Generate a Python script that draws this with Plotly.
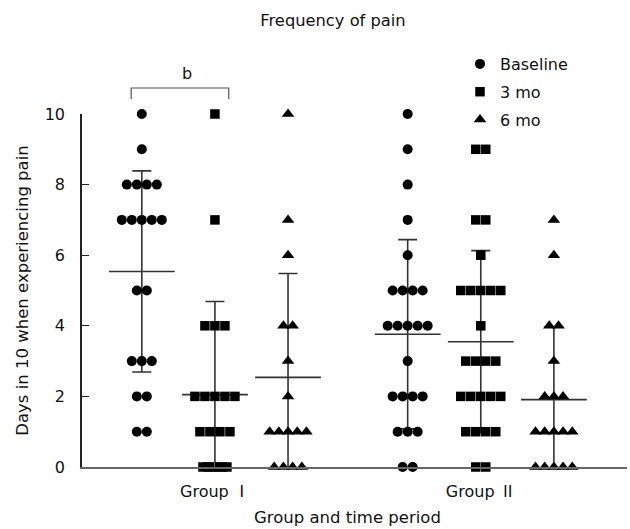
import plotly.graph_objects as go

# ---- data: days in 10 with pain, one value per patient ----
groups = ["Group <span style='font-family:Noto Sans CJK SC'>Ⅰ</span>",
          "Group <span style='font-family:Noto Sans CJK SC'>Ⅱ</span>"]
periods = ["Baseline", "3 mo", "6 mo"]

g1_baseline = [10, 9, 8, 8, 8, 8, 7, 7, 7, 7, 7, 5, 5, 3, 3, 3, 2, 2, 1, 1]
g1_3mo = [10, 7, 4, 4, 4, 2, 2, 2, 2, 2, 1, 1, 1, 1, 0, 0, 0, 0, 0, 0]
g1_6mo = [10, 7, 6, 4, 4, 3, 2, 1, 1, 1, 1, 1, 0, 0, 0, 0]

g2_baseline = [10, 9, 8, 7, 6, 5, 5, 5, 5, 4, 4, 4, 4, 4, 3, 2, 2, 2, 2, 1, 1, 1, 0, 0]
g2_3mo = [9, 9, 7, 7, 6, 5, 5, 5, 5, 5, 4, 3, 3, 3, 3, 2, 2, 2, 2, 2, 1, 1, 1, 1, 0, 0]
g2_6mo = [7, 6, 4, 4, 3, 2, 2, 2, 1, 1, 1, 1, 1, 0, 0, 0, 0, 0]

# mean and SD for each period
g1_mean = [5.54, 2.05, 2.54]
g1_sd = [2.85, 2.64, 2.94]
g2_mean = [3.76, 3.55, 1.91]
g2_sd = [2.68, 2.58, 2.06]

y_ticks = [0, 2, 4, 6, 8, 10]

# ---- layout constants ----
W, H = 630, 529
M_L, M_R, M_T, M_B = 82, 3, 114, 62
PLOT_H = H - M_T - M_B
PLOT_W = W - M_L - M_R
X_RANGE = [0.5, 2.55]
PX_PER_X = PLOT_W / (X_RANGE[1] - X_RANGE[0])
PERIOD_OFFSET = 0.275

FONT = "DejaVu Sans, Noto Sans CJK SC, sans-serif"
INK = "#111111"
BAR = "#333333"

symbols = ["circle", "square", "triangle-up"]
sizes = [10, 9.5, 11]
spacing_px = [10.0, 10.0, 9.2]


def swarm_x(center, values, step_px):
    """Spread equal values sideways around the column centre."""
    xs = []
    seen = {}
    counts = {}
    for v in values:
        counts[v] = counts.get(v, 0) + 1
    for v in values:
        n = counts[v]
        k = seen.get(v, 0)
        seen[v] = k + 1
        # crowded rows are packed tightly
        step = step_px if n <= 5 else 24.0 / (n - 1)
        xs.append(center + (k - (n - 1) / 2) * step / PX_PER_X)
    return xs


series = [
    (1, [g1_baseline, g1_3mo, g1_6mo], g1_mean, g1_sd),
    (2, [g2_baseline, g2_3mo, g2_6mo], g2_mean, g2_sd),
]

fig = go.Figure()

# mean line with SD whiskers
for gx, _, means, sds in series:
    cx = [gx + (i - 1) * PERIOD_OFFSET for i in range(3)]
    fig.add_trace(go.Scatter(
        x=cx, y=means, mode="markers", showlegend=False, hoverinfo="skip",
        marker=dict(symbol="line-ew", size=47, color=BAR,
                    line=dict(width=1.6, color=BAR)),
        error_y=dict(type="data", array=sds, symmetric=True, width=9.5,
                     thickness=1.6, color=BAR),
    ))

# individual patients
for gi, (gx, sets, _, _) in enumerate(series):
    for i, vals in enumerate(sets):
        cx = gx + (i - 1) * PERIOD_OFFSET
        fig.add_trace(go.Scatter(
            x=swarm_x(cx, vals, spacing_px[i]), y=vals, mode="markers",
            name=periods[i], legendgroup=periods[i], showlegend=(gi == 0),
            cliponaxis=False,
            marker=dict(symbol=symbols[i], size=sizes[i], color="black",
                        line=dict(width=0)),
        ))


def xp(x):
    return (x - X_RANGE[0]) / (X_RANGE[1] - X_RANGE[0])


def yp_px(py):
    """paper y for a pixel row measured from the top of the figure"""
    return 1 + (M_T - py) / PLOT_H


# significance bracket between baseline and 3 mo of group I
br_l = xp(1 - PERIOD_OFFSET - 0.04)
br_r = xp(1 + 0.052)
br_top = yp_px(88)
br_bot = yp_px(99)
fig.add_shape(type="path", xref="paper", yref="paper",
              path=f"M {br_l} {br_bot} L {br_l} {br_top} L {br_r} {br_top} L {br_r} {br_bot}",
              line=dict(color="#555555", width=1.2))
fig.add_annotation(x=(br_l + br_r) / 2, y=br_top, xref="paper", yref="paper",
                   text="b", showarrow=False, yanchor="bottom", yshift=3,
                   font=dict(family=FONT, size=16, color=INK))

# x-axis title
fig.add_annotation(x=(347 - M_L) / PLOT_W, y=yp_px(517), xref="paper", yref="paper",
                   text="Group and time period", showarrow=False,
                   xanchor="center", yanchor="middle",
                   font=dict(family=FONT, size=16.5, color=INK))

fig.update_layout(
    width=W, height=H,
    margin=dict(l=M_L, r=M_R, t=M_T, b=M_B),
    paper_bgcolor="white", plot_bgcolor="white",
    font=dict(family=FONT, size=16, color=INK),
    title=dict(text="Frequency of pain", x=333 / W, xref="container", xanchor="center",
               y=1 - 20 / H, yref="container", yanchor="middle",
               font=dict(family=FONT, size=16.3, color=INK)),
    legend=dict(x=(460 - M_L) / PLOT_W, xanchor="left",
                y=yp_px(47), yanchor="top",
                bgcolor="rgba(0,0,0,0)", tracegroupgap=4,
                font=dict(family=FONT, size=16, color=INK)),
    xaxis=dict(range=X_RANGE, tickvals=[1, 2], ticktext=groups,
               showline=True, linecolor="#666666", linewidth=1.5,
               ticks="inside", ticklen=5, tickcolor="#666666",
               ticklabelstandoff=9, tickfont=dict(size=16),
               showgrid=False, zeroline=False),
    yaxis=dict(range=[0, 10], tickvals=y_ticks,
               showline=True, linecolor="#222222", linewidth=1.5,
               ticks="inside", ticklen=7, tickcolor="#222222",
               ticklabelstandoff=12, tickfont=dict(size=16),
               showgrid=False, zeroline=False,
               title=dict(text="Days in 10 when experiencing pain", standoff=12,
                          font=dict(family=FONT, size=16.5, color=INK))),
)

fig.write_html("out.html")
